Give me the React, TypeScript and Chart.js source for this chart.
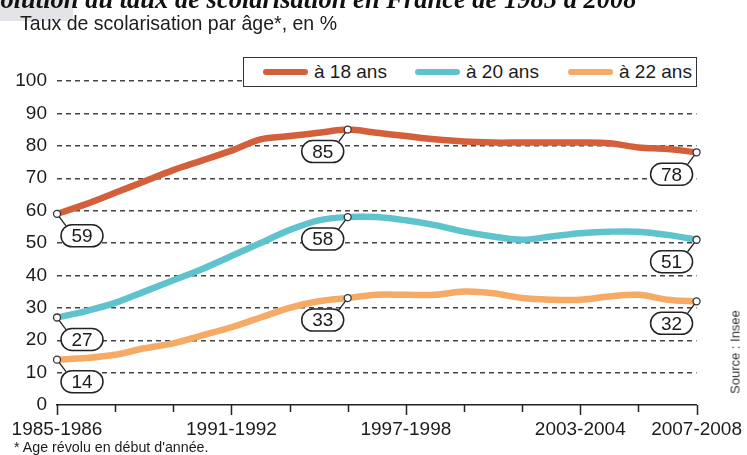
import React, { useEffect, useRef } from 'react';
import { Chart, registerables } from 'chart.js';

Chart.register(...registerables);

// ---- Data ----
const YEARS = [
  '1985-1986', '1986-1987', '1987-1988', '1988-1989', '1989-1990', '1990-1991',
  '1991-1992', '1992-1993', '1993-1994', '1994-1995', '1995-1996', '1996-1997',
  '1997-1998', '1998-1999', '1999-2000', '2000-2001', '2001-2002', '2002-2003',
  '2003-2004', '2004-2005', '2005-2006', '2006-2007', '2007-2008',
];
const SHOWN_LABELS = ['1985-1986', '1991-1992', '1997-1998', '2003-2004', '2007-2008'];

const SERIES_NAMES = ['à 18 ans', 'à 20 ans', 'à 22 ans'];
const AGE_18 = [59, 62, 65.5, 69, 72.5, 75.5, 78.5, 82, 83, 84, 85, 84, 83, 82, 81.3, 81, 81, 81, 81, 80.8, 79.5, 79, 78];
const AGE_20 = [27, 29, 31.5, 35, 38.5, 42, 46, 50, 54, 57, 58, 58, 57, 55.5, 53.5, 52, 51, 52, 53, 53.5, 53.5, 52.5, 51];
const AGE_22 = [14, 14.5, 15.5, 17.5, 19, 21.5, 24, 27, 30, 32, 33, 34, 34, 34, 35, 34.5, 33, 32.5, 32.5, 33.5, 34, 32.5, 32];
const CALLOUT_INDICES = [0, 10, 22];
const CALLOUT_VALUES = [
  [59, 85, 78],
  [27, 58, 51],
  [14, 33, 32],
];
const Y_MIN = 0;
const Y_MAX = 100;
const Y_STEP = 10;

const SERIES = [AGE_18, AGE_20, AGE_22];
const COLORS = ['#d3603b', '#5fc3cd', '#f5aa66'];

const SANS = '"Liberation Sans", Arial, sans-serif';
const TEXT = '#1c1c1c';

const overlayPlugin = {
  id: 'overlay',
  afterDatasetsDraw(chart: any) {
    const ctx = chart.ctx as CanvasRenderingContext2D;
    const xs = chart.scales.x;
    const ys = chart.scales.y;
    ctx.save();
    // axis tick marks every two years
    ctx.strokeStyle = '#222';
    ctx.lineWidth = 1.5;
    YEARS.forEach((lab, i) => {
      if (i % 2 !== 0) return;
      const px = Math.round(xs.getPixelForValue(i)) + 0.5;
      const len = SHOWN_LABELS.includes(lab) ? 10 : 7;
      ctx.beginPath();
      ctx.moveTo(px, ys.bottom);
      ctx.lineTo(px, ys.bottom + len);
      ctx.stroke();
    });
    // callouts
    SERIES.forEach((arr, k) => {
      CALLOUT_INDICES.forEach((idx, j) => {
        const px = xs.getPixelForValue(idx);
        const py = ys.getPixelForValue(arr[idx]);
        const dir = idx === 0 ? 1 : -1;
        const cx = px + dir * 25;
        const cy = py + 22;
        const w = 42;
        const h = 22;
        const ex = cx - dir * 16;
        const ey = cy - h / 2 + 1;
        const ang = Math.atan2(ey - py, ex - px);
        ctx.strokeStyle = '#222';
        ctx.lineWidth = 1.3;
        ctx.beginPath();
        ctx.moveTo(px + Math.cos(ang) * 3.5, py + Math.sin(ang) * 3.5);
        ctx.lineTo(ex, ey);
        ctx.stroke();
        ctx.fillStyle = '#fff';
        ctx.lineWidth = 1.5;
        ctx.beginPath();
        (ctx as any).roundRect(cx - w / 2, cy - h / 2, w, h, 11);
        ctx.fill();
        ctx.stroke();
        ctx.fillStyle = TEXT;
        ctx.font = `19px ${SANS}`;
        ctx.textAlign = 'center';
        ctx.textBaseline = 'middle';
        ctx.fillText(String(CALLOUT_VALUES[k][j]), cx, cy + 1);
      });
    });
    ctx.restore();
  },
};

export default function App() {
  const ref = useRef<HTMLCanvasElement>(null);

  useEffect(() => {
    if (!ref.current) return;
    const chart = new Chart(ref.current, {
      type: 'line',
      data: {
        labels: YEARS,
        datasets: SERIES.map((s, k) => ({
          label: SERIES_NAMES[k],
          data: s,
          borderColor: COLORS[k],
          backgroundColor: COLORS[k],
          borderWidth: 6.5,
          tension: 0.35,
          fill: false,
          clip: false,
          borderCapStyle: 'round',
          borderJoinStyle: 'round',
          pointRadius: (c: any) => (CALLOUT_INDICES.includes(c.dataIndex) ? 3.5 : 0),
          pointBackgroundColor: '#fff',
          pointBorderColor: '#333',
          pointBorderWidth: 1.3,
        })) as any,
      },
      options: {
        animation: false,
        responsive: false,
        maintainAspectRatio: false,
        devicePixelRatio: 1,
        events: [],
        layout: { padding: { top: 81, right: 46, bottom: 0, left: 0 } },
        plugins: { legend: { display: false }, tooltip: { enabled: false } },
        scales: {
          x: {
            grid: { display: false },
            border: { display: true, color: '#222', width: 1.6 },
            ticks: {
              autoSkip: false,
              maxRotation: 0,
              minRotation: 0,
              padding: 5,
              color: TEXT,
              font: { family: SANS, size: 19 },
              callback: (_v: any, i: number) => (SHOWN_LABELS.includes(YEARS[i]) ? YEARS[i] : ''),
            },
            afterFit: (s: any) => {
              s.height = 50;
            },
          },
          y: {
            min: Y_MIN,
            max: Y_MAX,
            ticks: {
              stepSize: Y_STEP,
              padding: 10,
              color: TEXT,
              font: { family: SANS, size: 19 },
            },
            grid: {
              color: (c: any) => (c.tick && c.tick.value === 0 ? 'rgba(0,0,0,0)' : '#444'),
              lineWidth: 1.4,
              drawTicks: false,
            },
            border: { display: false, dash: [5, 4] },
            afterFit: (s: any) => {
              s.width = 57;
            },
          },
        },
      } as any,
      plugins: [overlayPlugin],
    });
    return () => chart.destroy();
  }, []);

  const legendLefts = [20, 172, 325];

  return (
    <div style={{ position: 'fixed', left: 0, top: 0, width: 747, height: 455, background: '#fff', overflow: 'hidden' }}>
      <canvas ref={ref} width={747} height={455} style={{ position: 'absolute', left: 0, top: 0, width: 747, height: 455 }} />
      <div style={{ position: 'absolute', left: 0, top: 0, width: 73, height: 21, background: '#e4e4e8' }} />
      <div
        style={{
          position: 'absolute', left: -29, top: -14, whiteSpace: 'nowrap',
          font: 'italic bold 26.5px "Liberation Serif", "Times New Roman", serif', color: '#111', lineHeight: '26px',
        }}
      >
        Évolution du taux de scolarisation en France de 1985 à 2008
      </div>
      <div
        style={{
          position: 'absolute', left: 20, top: 11, whiteSpace: 'nowrap',
          fontFamily: SANS, fontSize: 21, color: TEXT, lineHeight: '24px',
          transform: 'scaleX(0.93)', transformOrigin: 'left center',
        }}
      >
        Taux de scolarisation par âge*, en %
      </div>
      <div
        style={{
          position: 'absolute', left: 243, top: 57, width: 454, height: 30, boxSizing: 'border-box',
          border: '1.5px solid #333', background: '#fff',
        }}
      >
        {SERIES_NAMES.map((name, k) => (
          <div key={name} style={{ position: 'absolute', left: legendLefts[k] - 1, top: 0, height: 27, display: 'flex', alignItems: 'center' }}>
            <div style={{ width: 45, height: 6, borderRadius: 3, background: COLORS[k], marginRight: 6 }} />
            <span style={{ fontFamily: SANS, fontSize: 19, color: TEXT, whiteSpace: 'nowrap' }}>{name}</span>
          </div>
        ))}
      </div>
      <div
        style={{
          position: 'absolute', left: 14, top: 438, whiteSpace: 'nowrap',
          fontFamily: SANS, fontSize: 15, color: TEXT, lineHeight: '17px',
          transform: 'scaleX(0.95)', transformOrigin: 'left center',
        }}
      >
        * Age révolu en début d'année.
      </div>
      <div
        style={{
          position: 'absolute', left: 735, top: 352, whiteSpace: 'nowrap',
          fontFamily: SANS, fontSize: 13, color: '#333', lineHeight: '15px',
          transform: 'translate(-50%, -50%) rotate(-90deg)',
        }}
      >
        Source : Insee
      </div>
    </div>
  );
}
